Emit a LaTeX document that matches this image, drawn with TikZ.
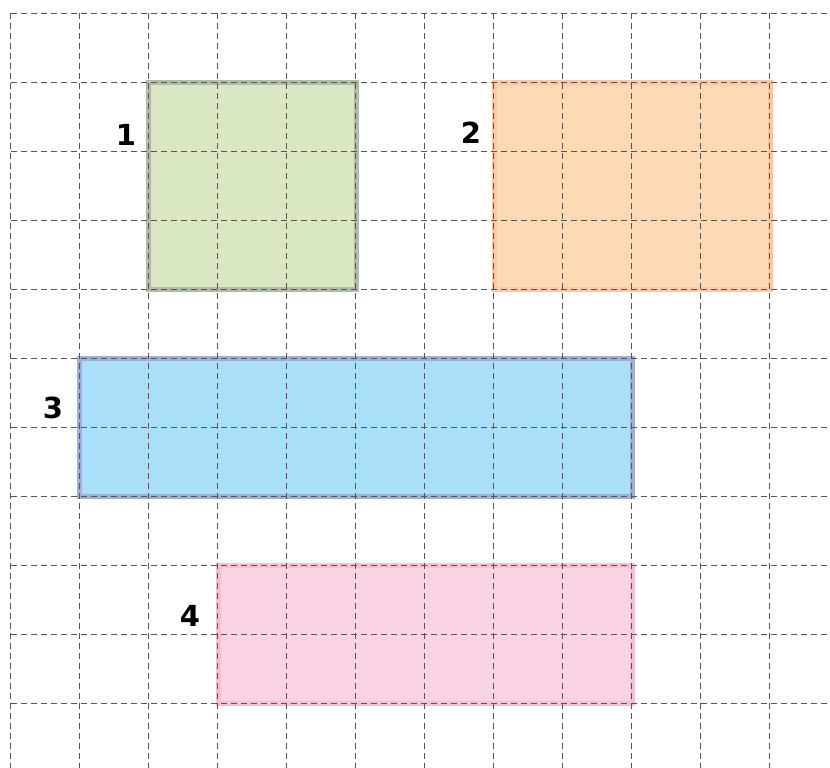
\documentclass[tikz,border=0pt]{standalone}
\usepackage{fontspec}
\newfontfamily\lblfont{DejaVu Sans}
\definecolor{gfill}{HTML}{D9E8C3}
\definecolor{gline}{HTML}{AFBDA8}
\definecolor{ofill}{HTML}{FDDAB5}
\definecolor{oline}{HTML}{FCC8A8}
\definecolor{bfill}{HTML}{A9DFF9}
\definecolor{bline}{HTML}{A0AFD9}
\definecolor{pfill}{HTML}{F9D2E4}
\definecolor{pline}{HTML}{F8C0D1}
\definecolor{gridc}{HTML}{555555}
\tikzset{
  gridline/.style={draw=gridc, line width=1pt, dash pattern=on 6pt off 4pt},
  zone/.style={line width=5pt},
  lbl/.style={font=\lblfont\bfseries\fontsize{29}{30}\selectfont, inner sep=0pt, text=black}
}
\begin{document}
\begin{tikzpicture}[x=1pt,y=-1pt]
\useasboundingbox (0,0) rectangle (830,768);
\fill[white] (0,0) rectangle (830,768);
% rectangles
\draw[zone, draw=gline, fill=gfill] (148.7,82.3) rectangle (356,289.3);
\draw[zone, draw=oline, fill=ofill] (494,82.3) rectangle (770,289.3);
\draw[zone, draw=bline, fill=bfill] (79.7,358.3) rectangle (632,496.3);
\draw[zone, draw=pline, fill=pfill] (218,565.3) rectangle (632,703.3);
% grid
\foreach \i in {0,...,11} {
  \draw[gridline] ({10.7+69*\i},13.3) -- ({10.7+69*\i},768);
}
\foreach \j in {0,...,10} {
  \draw[gridline] (10.7,{13.3+69*\j}) -- (830,{13.3+69*\j});
}
% labels
\node[lbl] (l1) at (126,134.5) {1};
\node[lbl] (l2) at (471,133) {2};
\node[lbl] (l3) at (53,407.5) {3};
\node[lbl] (l4) at (190,616) {4};
\end{tikzpicture}
\end{document}
